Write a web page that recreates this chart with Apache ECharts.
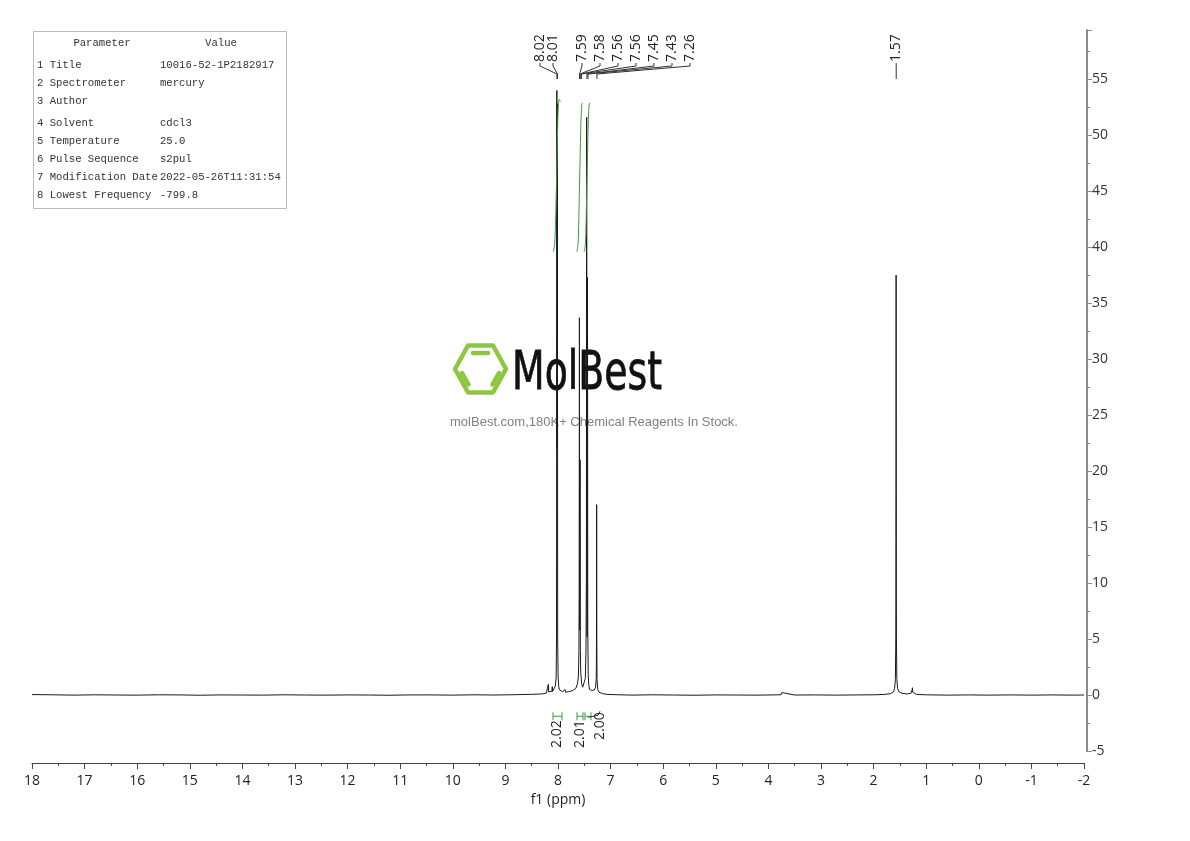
<!DOCTYPE html>
<html><head><meta charset="utf-8">
<script src="https://cdn.jsdelivr.net/npm/echarts@6/dist/echarts.min.js"></script>
<style>html,body{margin:0;padding:0;background:#fff}#c{width:1190px;height:841px}</style>
</head><body><div id="c"></div>
<script>
// ---------------- data ----------------
const specPpm = [18.00,17.60,17.20,16.80,16.40,16.00,15.60,15.20,14.80,14.40,14.00,13.60,13.20,12.80,12.40,12.00,11.60,11.20,10.80,10.40,10.00,9.60,9.20,8.80,8.50,8.30,8.22,8.19,8.184,8.178,8.14,8.115,8.109,8.103,8.075,8.050,8.035,8.028,8.022,8.017,8.012,8.006,7.998,7.985,7.97,7.95,7.91,7.875,7.865,7.855,7.80,7.72,7.66,7.63,7.612,7.602,7.598,7.593,7.587,7.580,7.575,7.568,7.560,7.550,7.53,7.51,7.495,7.480,7.468,7.460,7.455,7.447,7.439,7.434,7.426,7.415,7.40,7.36,7.31,7.285,7.272,7.268,7.265,7.262,7.258,7.245,7.22,7.15,7.05,6.60,6.20,5.80,5.40,5.00,4.60,4.20,3.90,3.76,3.745,3.735,3.50,3.10,2.70,2.30,2.00,1.80,1.68,1.62,1.600,1.586,1.578,1.575,1.572,1.569,1.566,1.558,1.544,1.52,1.46,1.36,1.29,1.268,1.262,1.256,1.24,1.18,1.00,0.60,0.20,-0.20,-0.60,-1.00,-1.40,-1.80,-2.00];
const specInt = [0.04,0.02,-0.01,0.02,0.00,-0.01,0.02,0.01,-0.02,0.01,0.00,-0.01,0.02,0.00,-0.01,0.01,0.00,-0.02,0.01,0.01,-0.01,0.02,0.00,0.03,0.06,0.10,0.18,0.30,0.95,0.28,0.25,0.35,0.75,0.32,0.45,0.8,1.6,5,54.0,22,52.8,5,1.6,0.7,0.45,0.35,0.3,0.3,0.5,0.25,0.3,0.4,0.6,1.0,1.7,4,9,33.7,5.8,21.0,4,2.0,1.6,1.0,0.7,0.6,0.8,1.5,4,11,51.6,5.2,37.3,6,1.8,0.9,0.5,0.4,0.45,0.7,1.6,5,17.0,5,1.4,0.5,0.25,0.12,0.05,-0.01,0.02,0.00,-0.02,0.01,0.00,-0.01,0.01,0.03,0.22,0.05,0.00,0.01,-0.01,0.01,0.02,0.05,0.12,0.3,0.6,1.4,5,14,37.5,14,5,1.4,0.6,0.3,0.15,0.1,0.15,0.45,0.65,0.25,0.1,0.05,0.02,-0.01,0.01,-0.01,0.01,-0.01,0.01,-0.01,0.00];

// integral curves (drawn on the intensity scale)
const int1Ppm = [8.090,8.064,8.045,8.025,8.008,7.992,7.975,7.958];
const int1Val = [39.6,40.2,42.5,46.5,50.5,52.8,53.2,53.0];
const int2Ppm = [7.642,7.618,7.600,7.582,7.565,7.548,7.532];
const int2Val = [39.6,40.3,43.5,47.5,51.0,52.7,52.9];
const int3Ppm = [7.502,7.478,7.460,7.442,7.425,7.408,7.392];
const int3Val = [39.6,40.3,43.5,47.5,51.0,52.7,52.9];

// integration regions and values
const intFrom = [8.095,7.639,7.487];
const intTo = [7.924,7.525,7.373];
const intLabels = ['2.02','2.01','2.00'];
const intLevel = -1.9;

// peak picking
const peakPpm = [8.02,8.01,7.59,7.58,7.56,7.56,7.45,7.43,7.26,1.57];
const peakLabels = ['8.02','8.01','7.59','7.58','7.56','7.56','7.45','7.43','7.26','1.57'];

// parameter table
const tableParams = ['1 Title','2 Spectrometer','3 Author','4 Solvent','5 Temperature','6 Pulse Sequence','7 Modification Date','8 Lowest Frequency'];
const tableValues = ['10016-52-1P2182917','mercury','','cdcl3','25.0','s2pul','2022-05-26T11:31:54','-799.8'];

// ---------------- layout ----------------
const peakLabelX = [540,553,582,600,618,636,654,672,690,null];
const LBL_BOTTOM = 62;
const tableRowY = [65,83,101,123,141,159,177,195];
const GREEN = '#3c9a3c';
const AXFONT = '"Open Sans", "Liberation Sans", sans-serif';
const MONO = '"Liberation Mono", "DejaVu Sans Mono", monospace';

const chart = echarts.init(document.getElementById('c'), null, {renderer:'canvas'});

const spectrum = specPpm.map((p,i)=>[p, specInt[i]]);
const mk = (a,b)=>a.map((p,i)=>[p,b[i]]);

const graphics = [];
// table
graphics.push({type:'rect', z:100, shape:{x:33.5,y:31.5,width:253,height:177}, style:{fill:'#fff', stroke:'#bbbbbb', lineWidth:1}});
const tstyle = (t, align)=>({text:t, font:'10.6px '+MONO, fill:'#333', align:align, textAlign:align, verticalAlign:'middle', textVerticalAlign:'middle'});
graphics.push({type:'text', z:101, x:102, y:43, style:tstyle('Parameter','center')});
graphics.push({type:'text', z:101, x:221, y:43, style:tstyle('Value','center')});
tableParams.forEach((t,i)=>{
  graphics.push({type:'text', z:101, x:37, y:tableRowY[i], style:tstyle(t,'left')});
  if (tableValues[i]) graphics.push({type:'text', z:101, x:160, y:tableRowY[i], style:tstyle(tableValues[i],'left')});
});
// watermark
const LG = '#8dc63f';
graphics.push({type:'polygon', z:0, shape:{points:[[455,369],[468,345.5],[493,345.5],[506,369],[493,392.5],[468,392.5]]}, style:{fill:null, stroke:LG, lineWidth:4.5, lineJoin:'round'}});
graphics.push({type:'line', z:0, shape:{x1:473,y1:353,x2:488,y2:353}, style:{stroke:LG, lineWidth:4.5, lineCap:'round'}});
graphics.push({type:'line', z:0, shape:{x1:462,y1:373,x2:468.5,y2:384.5}, style:{stroke:LG, lineWidth:4.5, lineCap:'round'}});
graphics.push({type:'line', z:0, shape:{x1:499,y1:373,x2:492.5,y2:384.5}, style:{stroke:LG, lineWidth:4.5, lineCap:'round'}});
graphics.push({type:'text', z:0, x:587, y:375, scaleX:0.70, style:{text:'MolBest', font:'54px "DejaVu Sans"', fill:'#111', align:'center', textAlign:'center', verticalAlign:'middle', textVerticalAlign:'middle', stroke:'#111', lineWidth:0.8}});
graphics.push({type:'text', z:0, x:594, y:422, style:{text:'molBest.com,180K+ Chemical Reagents In Stock.', font:'13px "Liberation Sans", Arial, sans-serif', fill:'#808080', align:'center', textAlign:'center', verticalAlign:'middle', textVerticalAlign:'middle'}});

const option = {
  animation:false,
  backgroundColor:'#ffffff',
  grid:{left:32, right:106, top:30, bottom:90, containLabel:false},
  xAxis:{
    type:'value', inverse:true, min:-2, max:18, interval:1, position:'bottom', offset:12,
    name:'f1 (ppm)', nameLocation:'middle', nameGap:29,
    nameTextStyle:{fontFamily:AXFONT, fontSize:14, color:'#222'},
    axisLine:{show:true, onZero:false, lineStyle:{color:'#444', width:1}},
    axisTick:{show:true, inside:false, length:6, lineStyle:{color:'#444', width:1}},
    minorTick:{show:true, splitNumber:2, length:3, lineStyle:{color:'#444', width:1}},
    axisLabel:{margin:11, fontFamily:AXFONT, fontSize:14, color:'#222'},
    splitLine:{show:false}, minorSplitLine:{show:false}
  },
  yAxis:{
    type:'value', position:'right', offset:3, min:-5, max:59.4, interval:5,
    axisLine:{show:true, onZero:false, lineStyle:{color:'#8a8a8a', width:2}},
    axisTick:{show:true, inside:false, length:5, lineStyle:{color:'#8a8a8a', width:1}},
    minorTick:{show:true, splitNumber:2, length:3, lineStyle:{color:'#8a8a8a', width:1}},
    axisLabel:{margin:5, showMaxLabel:false, fontFamily:AXFONT, fontSize:14, color:'#333'},
    splitLine:{show:false}, minorSplitLine:{show:false}
  },
  graphic: graphics,
  series:[
    {type:'line', name:'spectrum', data:spectrum, showSymbol:false, symbol:'none', z:3,
      lineStyle:{color:'#1a1a1a', width:1}, silent:true},
    {type:'line', data:mk(int1Ppm,int1Val), showSymbol:false, symbol:'none', smooth:0.3, z:4, lineStyle:{color:GREEN, width:1}, silent:true},
    {type:'line', data:mk(int2Ppm,int2Val), showSymbol:false, symbol:'none', smooth:0.3, z:4, lineStyle:{color:GREEN, width:1}, silent:true},
    {type:'line', data:mk(int3Ppm,int3Val), showSymbol:false, symbol:'none', smooth:0.3, z:4, lineStyle:{color:GREEN, width:1}, silent:true},
    {type:'custom', coordinateSystem:'cartesian2d', silent:true, clip:false, z:5,
      data: peakPpm.map((p,i)=>[p,0,i]),
      encode:{x:0,y:1},
      renderItem:function(params, api){
        const i = params.dataIndex;
        const px = api.coord([api.value(0), 0])[0];
        const lx = peakLabelX[i] == null ? px : peakLabelX[i];
        const pts = peakLabelX[i] == null ? [[px,LBL_BOTTOM+1],[px,79]] : [[lx,LBL_BOTTOM+1],[lx,66],[px,74],[px,79]];
        return {type:'group', children:[
          {type:'polyline', shape:{points:pts}, style:{stroke:'#333', lineWidth:1, fill:null}},
          {type:'text', x:lx, y:LBL_BOTTOM, rotation:Math.PI/2,
            style:{text:peakLabels[i], font:'14px '+AXFONT, fill:'#222', align:'left', textAlign:'left', verticalAlign:'middle', textVerticalAlign:'middle'}}
        ]};
      }
    },
    {type:'custom', coordinateSystem:'cartesian2d', silent:true, clip:false, z:5,
      data: intFrom.map((f,i)=>[f,intTo[i],intLevel,i]),
      encode:{x:[0,1],y:2},
      renderItem:function(params, api){
        const i = params.dataIndex;
        const a = api.coord([api.value(0), api.value(2)]);
        const b = api.coord([api.value(1), api.value(2)]);
        const y = a[1];
        const cx = (a[0]+b[0])/2;
        const children = [
          {type:'line', shape:{x1:a[0],y1:y,x2:b[0],y2:y}, style:{stroke:GREEN, lineWidth:1}},
          {type:'line', shape:{x1:a[0],y1:y-4,x2:a[0],y2:y+4}, style:{stroke:GREEN, lineWidth:1}},
          {type:'line', shape:{x1:b[0],y1:y-4,x2:b[0],y2:y+4}, style:{stroke:GREEN, lineWidth:1}}
        ];
        let lx = cx, ty = y+4;
        if (i === 2) {
          lx = cx + 12;
          ty = y - 4;
          children.push({type:'polyline', shape:{points:[[cx,y+1],[lx-2,y-1],[lx,y-5]]}, style:{stroke:'#333', lineWidth:1, fill:null}});
        }
        children.push({type:'text', x:lx, y:ty, rotation:Math.PI/2,
          style:{text:intLabels[i], font:'14px '+AXFONT, fill:'#222', align:'right', textAlign:'right', verticalAlign:'middle', textVerticalAlign:'middle'}});
        return {type:'group', children:children};
      }
    }
  ]
};
chart.setOption(option);
</script>
</body></html>
